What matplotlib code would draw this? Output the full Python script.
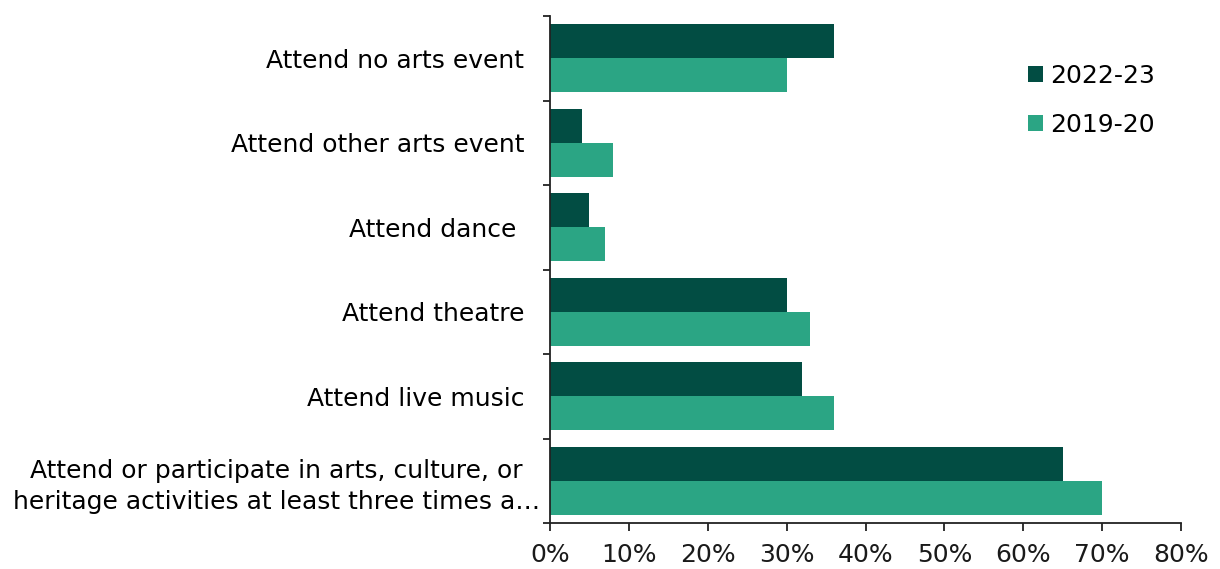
import matplotlib.pyplot as plt
import matplotlib.transforms as mtransforms
import numpy as np

categories = [
    "Attend no arts event",
    "Attend other arts event",
    "Attend dance ",
    "Attend theatre",
    "Attend live music",
    "Attend or participate in arts, culture, or\nheritage activities at least three times a\u2026",
]
vals_2022 = [36, 4, 5, 30, 32, 65]
vals_2019 = [30, 8, 7, 33, 36, 70]
series_names = ["2022-23", "2019-20"]
colors = ["#024d43", "#2ba584"]

plt.rcParams['font.family'] = ['DejaVu Sans']
fs = 18

fig = plt.figure(figsize=(12.2, 5.69), dpi=100)
ax = fig.add_axes([550/1220, 1 - 523/569, (1181 - 550)/1220, (523 - 16)/569])

y = np.arange(len(categories))
h = 0.4
ax.barh(y - h/2, vals_2022, height=h, color=colors[0], label=series_names[0])
ax.barh(y + h/2, vals_2019, height=h, color=colors[1], label=series_names[1])

ax.set_ylim(len(categories) - 0.5, -0.5)
ax.set_xlim(0, 80)

# boundary ticks on y, labels at centers
ax.set_yticks(np.arange(-0.5, len(categories), 1))
ax.set_yticklabels([])
ax.set_yticks(y, minor=True)
ax.set_yticklabels(categories, minor=True, fontsize=fs, ha='right',
                   multialignment='center', linespacing=1.35)
ax.tick_params(axis='y', which='minor', length=0, pad=18.7)
ax.tick_params(axis='y', which='major', length=5, width=1.3, color='#222222')

lbl = ax.get_yticklabels(minor=True)[-1]
lbl.set_transform(lbl.get_transform() + mtransforms.ScaledTranslation(16/100, 0, fig.dpi_scale_trans))

ax.set_xticks(np.arange(0, 81, 10))
ax.set_xticklabels([f"{v}%" for v in range(0, 81, 10)], fontsize=fs)
ax.tick_params(axis='x', length=5.5, width=1.3, color='#222222', pad=9, labelcolor='#1a1a1a')
ax.tick_params(axis='y', labelcolor='#1a1a1a')

for s in ['top', 'right']:
    ax.spines[s].set_visible(False)
for s in ['left', 'bottom']:
    ax.spines[s].set_linewidth(1.3)
    ax.spines[s].set_color('#222222')

ax.legend(loc='upper left', bbox_to_anchor=(1028/1220, 1 - 64/569), bbox_transform=fig.transFigure,
          frameon=False, fontsize=fs, handlelength=0.6, handleheight=0.6, handletextpad=0.3,
          labelspacing=1.0, borderpad=0, borderaxespad=0)

fig.savefig("out.png", dpi=100)
